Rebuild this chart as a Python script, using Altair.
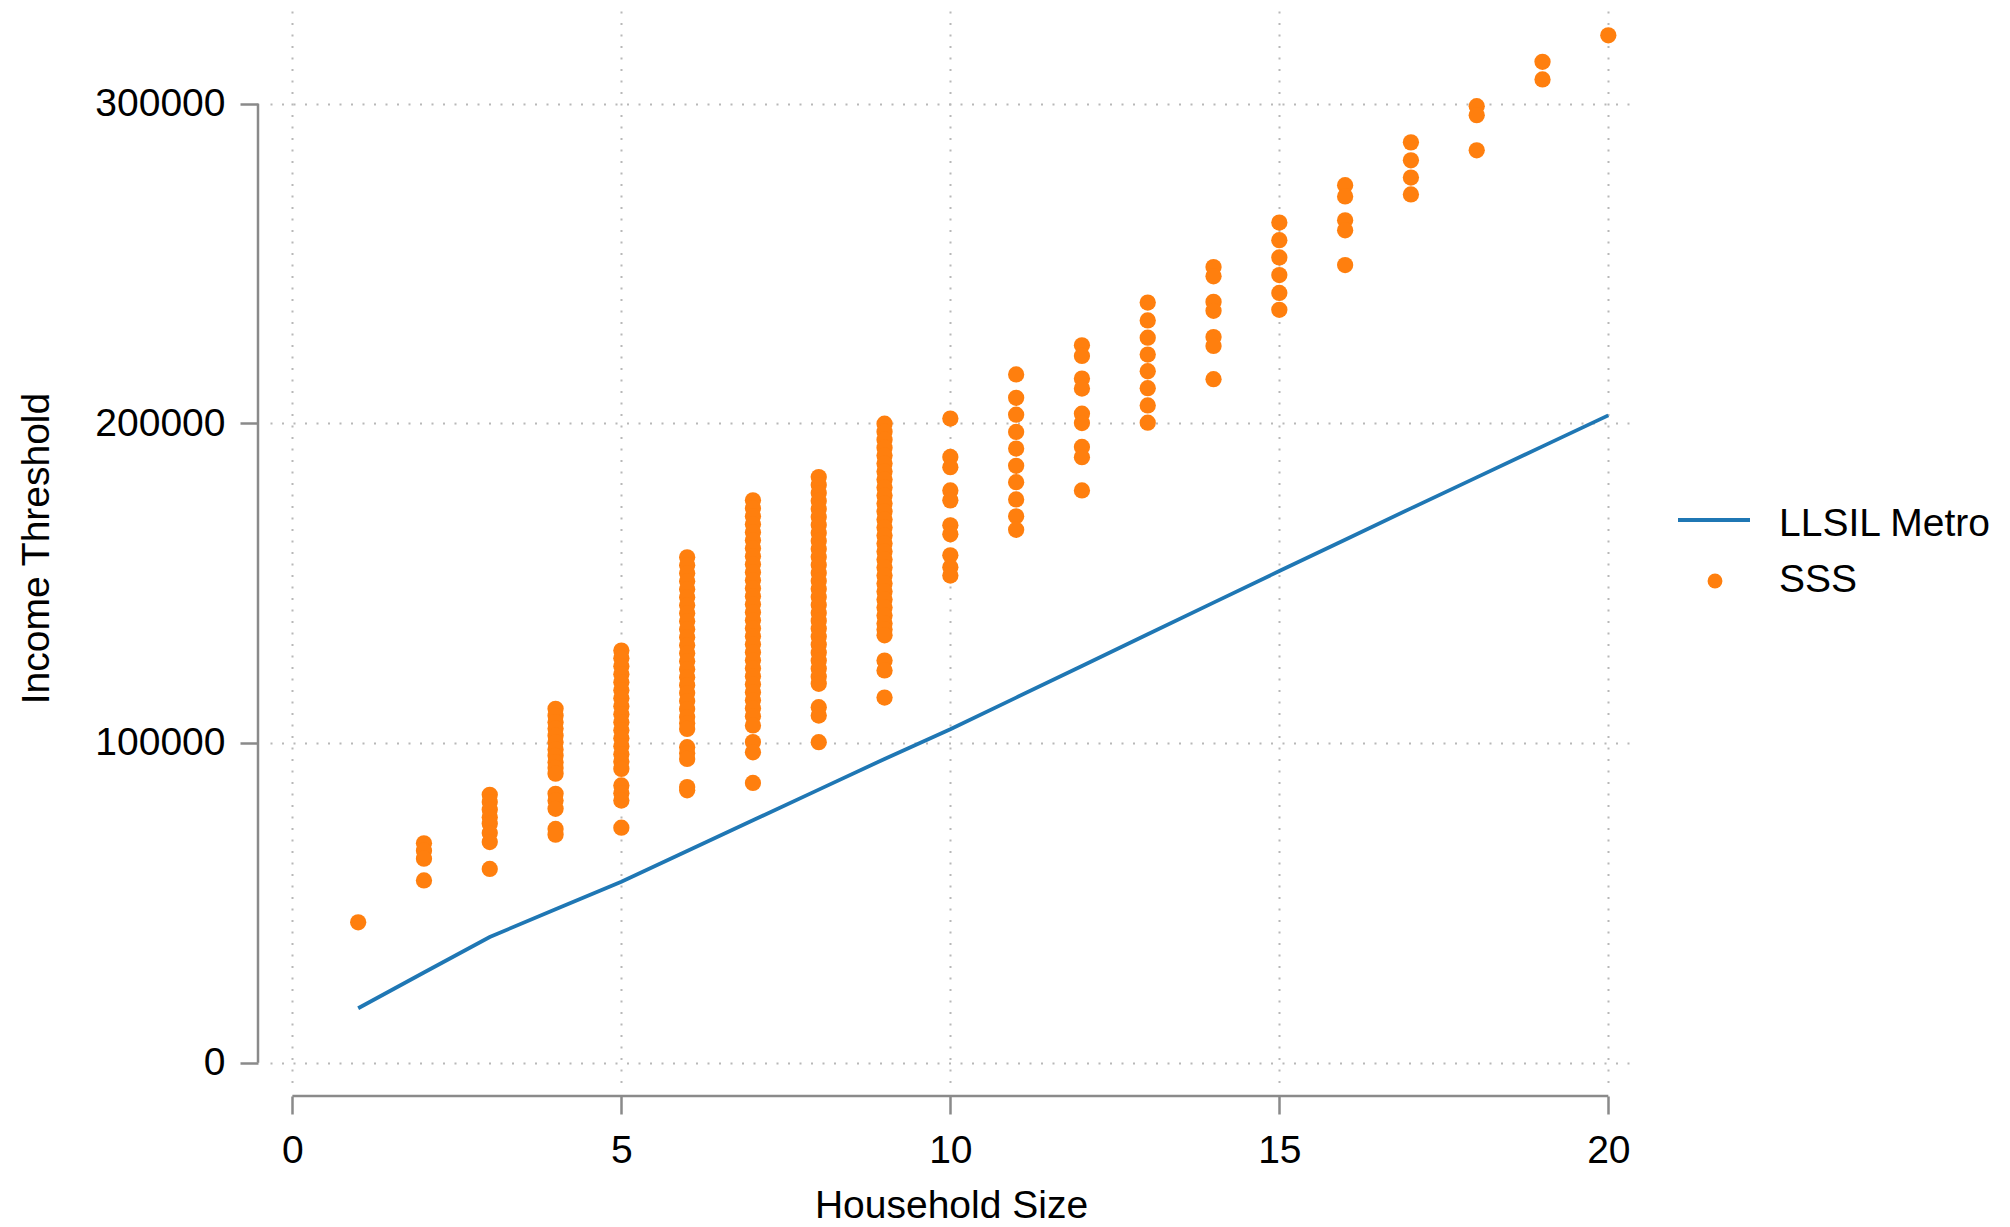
import altair as alt
import pandas as pd

FONT = "Liberation Sans"
BLUE = "#1f77b4"
ORANGE = "#ff7f0e"
AXIS_GRAY = "#8a8a8a"

x_ticks = [0, 5, 10, 15, 20]
y_ticks = [0, 100000, 200000, 300000]
series_names = ["LLSIL Metro", "SSS"]

# LLSIL Metro line, household size 1..20
llsil_sizes = [1, 2, 3, 4, 5, 6, 7, 8, 9, 10, 11, 12, 13, 14, 15, 16, 17, 18, 19, 20]
llsil_metro = [17000, 28200, 39300, 48000, 56600, 66200, 75800, 85400, 95000, 104300,
               114200, 124100, 134000, 143900, 153800, 163600, 173400, 183100, 192800, 202500]

# SSS thresholds by household size
sss_1 = [43900]
sss_2 = [68600, 66300, 63800, 57000]
sss_3 = [83800, 81500, 79100, 76800, 74700, 71800, 69000, 60600]
sss_4 = [110700, 108500, 106500, 104500, 102300, 100200, 98000, 96000, 94000, 92200, 90400,
         84100, 82000, 79400, 73100, 71300]
sss_5 = [128900, 126500, 124000, 121500, 119000, 116500, 114000, 111500, 109000, 106500,
         104000, 101500, 99000, 96500, 94200, 91900, 86700, 84300, 82000, 73500]
sss_6 = [158100, 155600, 153100, 150600, 148100, 145600, 143100, 140600, 138100, 135600,
         133100, 130600, 128100, 125600, 123100, 120600, 118100, 115600, 113100, 110600,
         108100, 106200, 104400, 98700, 96800, 95000, 86200, 85200]
sss_7 = [175900, 173400, 170900, 168400, 165900, 163400, 160900, 158400, 155900, 153400,
         150900, 148400, 145900, 143400, 140900, 138400, 135900, 133400, 130900, 128400,
         125900, 123400, 120900, 118400, 115900, 113400, 110900, 108400, 105500, 100300,
         97100, 87500]
sss_8 = [183200, 180700, 178200, 175700, 173200, 170700, 168200, 165700, 163200, 160700,
         158200, 155700, 153200, 150700, 148200, 145700, 143200, 140700, 138200, 135700,
         133200, 130700, 128200, 125700, 123200, 120700, 118500, 111200, 108600, 100250]
sss_9 = [199900, 197400, 194900, 192400, 189900, 187400, 184900, 182400, 179900, 177400,
         174900, 172400, 169900, 167400, 164900, 162400, 159900, 157400, 154900, 152400,
         149900, 147400, 144900, 142400, 139900, 137400, 135500, 133700, 125800, 122700, 114200]
sss_10 = [201500, 189500, 186300, 179000, 175900, 168100, 165300, 158700, 155000, 152400]
sss_11 = [215300, 208000, 202700, 197300, 192100, 186700, 181600, 176200, 170900, 166700]
sss_12 = [224400, 221100, 214000, 210900, 203000, 200100, 192600, 189400, 179000]
sss_13 = [237800, 232200, 226800, 221500, 216300, 211000, 205600, 200200]
sss_14 = [248900, 246000, 238000, 235200, 227000, 224200, 213800]
sss_15 = [262800, 257300, 251900, 246400, 240800, 235500]
sss_16 = [274500, 271000, 263500, 260400, 249500]
sss_17 = [287900, 282300, 276900, 271600]
sss_18 = [299200, 296400, 285400]
sss_19 = [313100, 307600]
sss_20 = [321400]

sss_by_size = {1: sss_1, 2: sss_2, 3: sss_3, 4: sss_4, 5: sss_5, 6: sss_6, 7: sss_7,
               8: sss_8, 9: sss_9, 10: sss_10, 11: sss_11, 12: sss_12, 13: sss_13,
               14: sss_14, 15: sss_15, 16: sss_16, 17: sss_17, 18: sss_18, 19: sss_19,
               20: sss_20}

line_df = pd.DataFrame({"hh": llsil_sizes, "income": llsil_metro, "series": series_names[0]})
rows = [{"hh": k, "income": v, "series": series_names[1]} for k, vals in sss_by_size.items() for v in vals]
sss_df = pd.DataFrame(rows)

W, H = 1362, 1074
X_OFF, Y_OFF = 11, 12

x_enc = alt.X("hh:Q",
              scale=alt.Scale(domain=[-0.34, 20.36], nice=False, zero=False),
              axis=alt.Axis(values=x_ticks, format="d", title="Household Size",
                            offset=X_OFF, labelPadding=17, titlePadding=16))
y_enc = alt.Y("income:Q",
              scale=alt.Scale(domain=[-7000, 329000], nice=False, zero=False),
              axis=alt.Axis(values=y_ticks, format="d", title="Income Threshold",
                            offset=Y_OFF, labelPadding=15, titlePadding=38))

line = alt.Chart(line_df).mark_line(color=BLUE, strokeWidth=3.8).encode(x=x_enc, y=y_enc)
points = alt.Chart(sss_df).mark_circle(color=ORANGE, size=265, opacity=1).encode(x=x_enc, y=y_enc)

one = pd.DataFrame({"k": [0]})
x_domain_line = alt.Chart(one).mark_rule(color=AXIS_GRAY, strokeWidth=2.5).encode(
    x=alt.datum(x_ticks[0]), x2=alt.datum(x_ticks[-1]), y=alt.value(H + X_OFF))
y_domain_line = alt.Chart(one).mark_rule(color=AXIS_GRAY, strokeWidth=2.5).encode(
    y=alt.datum(y_ticks[0]), y2=alt.datum(y_ticks[-1]), x=alt.value(-Y_OFF))

leg1 = pd.DataFrame({"label": [series_names[0]]})
leg2 = pd.DataFrame({"label": [series_names[1]]})
leg_line = alt.Chart(leg1).mark_rule(color=BLUE, strokeWidth=3.8).encode(
    x=alt.value(1408), x2=alt.value(1480), y=alt.value(509))
leg_dot = alt.Chart(leg2).mark_circle(color=ORANGE, size=220, opacity=1).encode(
    x=alt.value(1445), y=alt.value(570))
leg_text1 = alt.Chart(leg1).mark_text(align="left", baseline="alphabetic", font=FONT,
                                      fontSize=39, color="#000").encode(
    x=alt.value(1509), y=alt.value(525), text="label:N")
leg_text2 = alt.Chart(leg2).mark_text(align="left", baseline="alphabetic", font=FONT,
                                      fontSize=39, color="#000").encode(
    x=alt.value(1509), y=alt.value(581), text="label:N")

chart = alt.layer(
    line, points, x_domain_line, y_domain_line, leg_line, leg_dot, leg_text1, leg_text2
).properties(
    width=W, height=H,
    autosize=alt.AutoSizeParams(type="none"),
    padding={"left": 262, "top": 3, "right": 364, "bottom": 141},
    background="white",
).configure_axis(
    grid=True, gridColor="#b8b8b8", gridDash=[2, 9.5], gridWidth=2,
    domain=False, tickColor=AXIS_GRAY, tickWidth=2.5, tickSize=18,
    labelFont=FONT, labelFontSize=39, labelColor="#000",
    titleFont=FONT, titleFontSize=39, titleFontWeight="normal", titleColor="#000",
).configure_view(stroke=None)

chart.save("out.html", embed_options={"renderer": "svg", "actions": False})
